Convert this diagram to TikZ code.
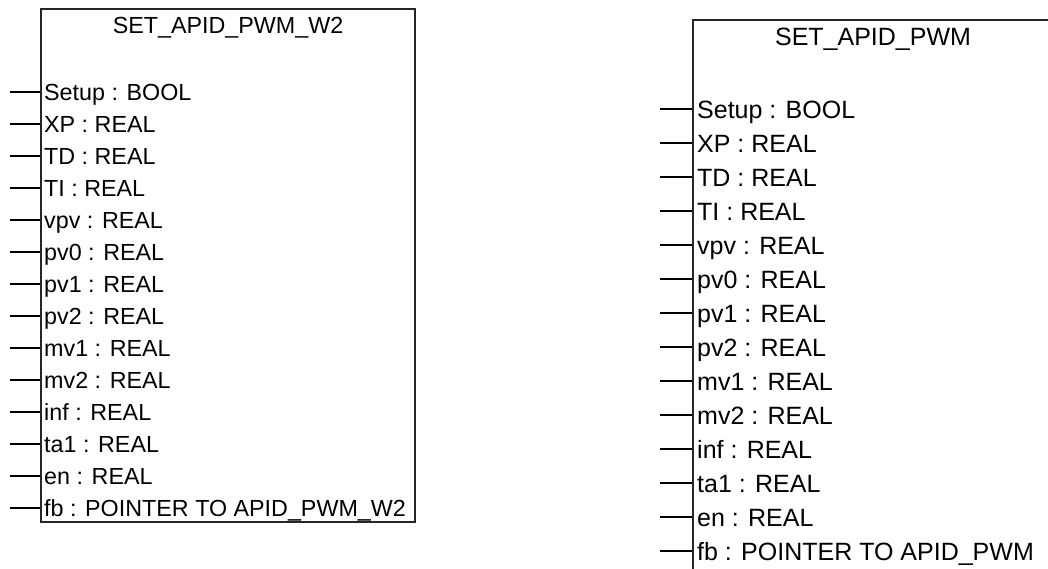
\documentclass[tikz,border=0pt]{standalone}
\usepackage{fontspec}
\setmainfont{Liberation Sans}
\begin{document}
\begin{tikzpicture}[x=1pt,y=-1pt,
  blk/.style={draw=black!85, line width=2pt, fill=none, inner sep=0pt, minimum width=#1},
  fsA/.style={font=\fontsize{23.3}{28}\selectfont},
  fsB/.style={font=\fontsize{25}{30}\selectfont},
  lbl/.style={inner sep=0pt, anchor=base west, text=black},
  ttl/.style={inner sep=0pt, text=black},
  stub/.style={draw=black, line width=1.8pt}]
\clip (0,0) rectangle (1048,568);
\useasboundingbox (0,0) rectangle (1048,568);
\fill[white] (0,0) rectangle (1048,568);
% left block
\node[blk=374pt, minimum height=513pt] (B1) at (228,265.5) {};
\node[ttl,fsA] (T1) at (228,28) {SET\_APID\_PWM\_W2};
\foreach \t [count=\i from 0] in {Setup : BOOL,XP : REAL,TD : REAL,TI : REAL,vpv : REAL,pv0 : REAL,pv1 : REAL,pv2 : REAL,mv1 : REAL,mv2 : REAL,inf : REAL,ta1 : REAL,en : REAL,fb : POINTER TO APID\_PWM\_W2}{
  \coordinate (LS\i) at (10,92+32*\i);
  \node[lbl,fsA] (LL\i) at (44,92+32*\i+8.4) {\t};
  \draw[stub] (LS\i) -- (LS\i -| B1.west);
}
% right block
\node[blk=360pt, minimum height=600pt] (B2) at (873,320) {};
\node[ttl,fsB] (T2) at (873,39) {SET\_APID\_PWM};
\foreach \t [count=\i from 0] in {Setup : BOOL,XP : REAL,TD : REAL,TI : REAL,vpv : REAL,pv0 : REAL,pv1 : REAL,pv2 : REAL,mv1 : REAL,mv2 : REAL,inf : REAL,ta1 : REAL,en : REAL,fb : POINTER TO APID\_PWM}{
  \coordinate (RS\i) at (660,109+34*\i);
  \node[lbl,fsB] (RL\i) at (697,109+34*\i+9) {\t};
  \draw[stub] (RS\i) -- (RS\i -| B2.west);
}
\end{tikzpicture}
\end{document}
